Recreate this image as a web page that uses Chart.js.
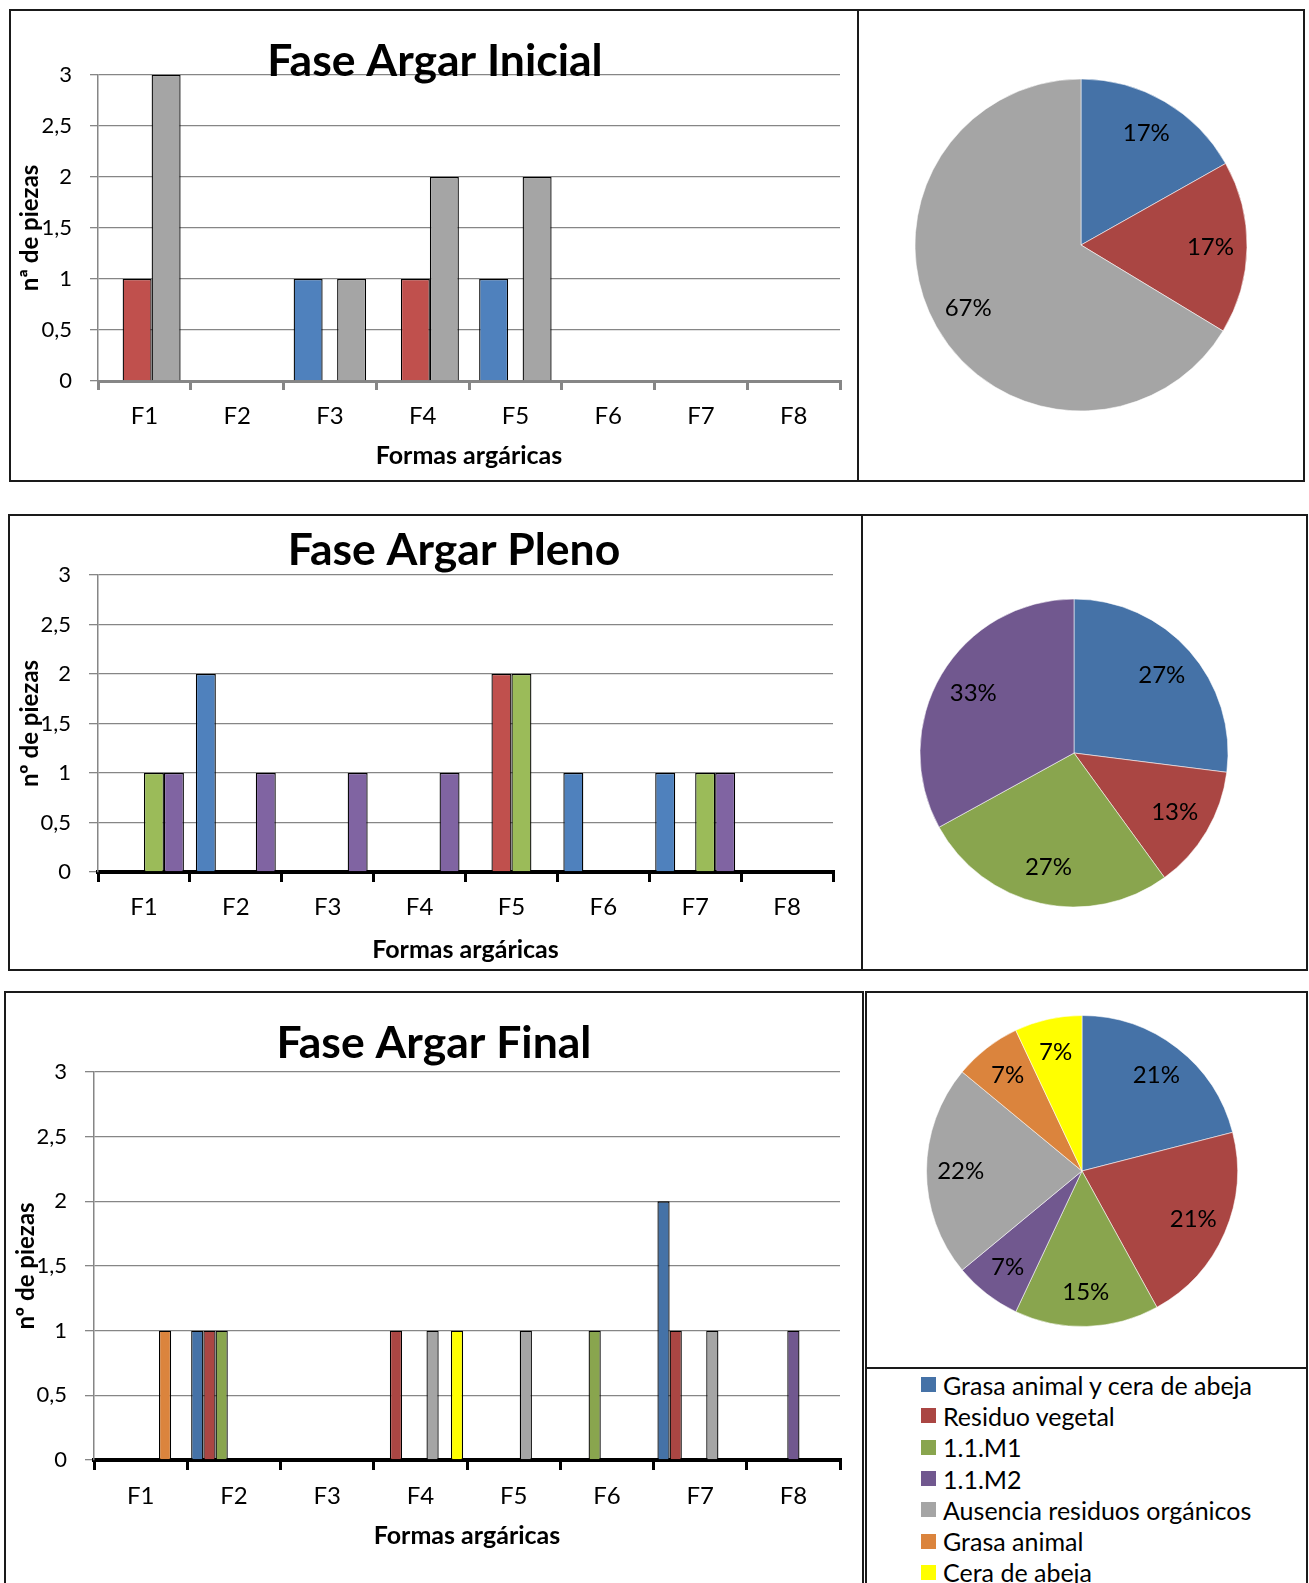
<!DOCTYPE html>
<html lang="es">
<head>
<meta charset="utf-8">
<title>Fases argáricas</title>
<script src="https://cdn.jsdelivr.net/npm/chart.js@4.4.1/dist/chart.umd.min.js"></script>
<style>
  html, body { margin: 0; padding: 0; background: #fff; }
  body { position: relative; width: 1309px; height: 1583px; overflow: hidden; font-family: Lato, sans-serif; }
  .box { position: absolute; box-sizing: border-box; border: 2px solid #1a1a1a; pointer-events: none; }
  .rule { position: absolute; background: #1a1a1a; }
  canvas { position: absolute; }
  #legend { position: absolute; left: 921px; top: 1369px; margin: 0; padding: 0; list-style: none; font: 25px Lato, sans-serif; color: #000; }
  #legend li { display: flex; align-items: center; height: 31.3px; white-space: nowrap; }
  #legend span { display: inline-block; width: 15px; height: 15px; margin-right: 7px; }
</style>
</head>
<body>
<canvas id="bar-inicial" width="852" height="472" style="left:9px;top:9px"></canvas>
<canvas id="pie-inicial" width="360" height="360" style="left:901px;top:65px"></canvas>
<canvas id="bar-pleno" width="892" height="456" style="left:8px;top:514px"></canvas>
<canvas id="pie-pleno" width="340" height="340" style="left:904px;top:583px"></canvas>
<canvas id="bar-final" width="860" height="600" style="left:4px;top:991px"></canvas>
<canvas id="pie-final" width="340" height="340" style="left:912px;top:1001px"></canvas>
<ul id="legend"></ul>

<div class="box" style="left:9px;top:9px;width:850px;height:473px"></div>
<div class="box" style="left:857px;top:9px;width:448px;height:473px"></div>
<div class="box" style="left:8px;top:514px;width:855px;height:457px"></div>
<div class="box" style="left:861px;top:514px;width:447px;height:457px"></div>
<div class="box" style="left:4px;top:991px;width:860px;height:620px"></div>
<div class="box" style="left:865px;top:991px;width:443px;height:620px"></div>
<div class="rule" style="left:865px;top:1367px;width:443px;height:2px"></div>

<script>
// ---- datos ----
const CATEGORIES = ["F1", "F2", "F3", "F4", "F5", "F6", "F7", "F8"];
const Y_TICK_LABELS = ["0", "0,5", "1", "1,5", "2", "2,5", "3"];

// Fase Argar Inicial (nº de piezas por forma)
const INI_GRASA_CERA = [0, 0, 1, 0, 1, 0, 0, 0];
const INI_RESIDUO_VEGETAL = [1, 0, 0, 1, 0, 0, 0, 0];
const INI_M1 = [0, 0, 0, 0, 0, 0, 0, 0];
const INI_AUSENCIA = [3, 0, 1, 2, 2, 0, 0, 0];

// Fase Argar Pleno
const PLE_GRASA_CERA = [0, 2, 0, 0, 0, 1, 1, 0];
const PLE_RESIDUO_VEGETAL = [0, 0, 0, 0, 2, 0, 0, 0];
const PLE_M1 = [1, 0, 0, 0, 2, 0, 1, 0];
const PLE_M2 = [1, 1, 1, 1, 0, 0, 1, 0];

// Fase Argar Final
const FIN_GRASA_CERA = [0, 1, 0, 0, 0, 0, 2, 0];
const FIN_RESIDUO_VEGETAL = [0, 1, 0, 1, 0, 0, 1, 0];
const FIN_M1 = [0, 1, 0, 0, 0, 1, 0, 0];
const FIN_M2 = [0, 0, 0, 0, 0, 0, 0, 1];
const FIN_AUSENCIA = [0, 0, 0, 1, 1, 0, 1, 0];
const FIN_GRASA = [1, 0, 0, 0, 0, 0, 0, 0];
const FIN_CERA = [0, 0, 0, 1, 0, 0, 0, 0];

// tartas (% mostrado)
const PIE_INI_LABELS = ["Grasa animal y cera de abeja", "Residuo vegetal", "Ausencia residuos orgánicos"];
const PIE_INI_VALUES = [17, 17, 67];
const PIE_PLE_LABELS = ["Grasa animal y cera de abeja", "Residuo vegetal", "1.1.M1", "1.1.M2"];
const PIE_PLE_VALUES = [27, 13, 27, 33];
const PIE_FIN_LABELS = ["Grasa animal y cera de abeja", "Residuo vegetal", "1.1.M1", "1.1.M2",
  "Ausencia residuos orgánicos", "Grasa animal", "Cera de abeja"];
const PIE_FIN_VALUES = [21, 21, 15, 7, 22, 7, 7];

// ---- estilos ----
const XL = { blue: "#4F81BD", red: "#C0504D", green: "#9BBB59", purple: "#8064A2", gray: "#A5A5A5" };
const PIE = ["#4572A7", "#AA4643", "#89A54E", "#71588F", "#A5A5A5", "#DB843D", "#FFFF00"];
const GRID = "#868686";

Chart.defaults.font.family = "Lato, sans-serif";
Chart.defaults.color = "#000";

function barChart(id, o) {
  return new Chart(document.getElementById(id), {
    type: "bar",
    data: {
      labels: CATEGORIES,
      datasets: o.series.map((s) => ({
        label: s.label, data: s.data, backgroundColor: s.color,
        borderColor: "#000", borderWidth: (c) => (c.raw ? 1.3 : 0),
        categoryPercentage: o.catPct, barPercentage: o.barPct,
      })),
    },
    options: {
      responsive: false, animation: false,
      plugins: {
        legend: { display: false }, tooltip: { enabled: false },
        title: { display: true, text: o.title, font: { size: 44.5, weight: "bold", lineHeight: 1 }, padding: o.titlePad },
      },
      scales: {
        x: {
          offset: true,
          grid: { offset: true, drawOnChartArea: false, color: o.axisColor, lineWidth: o.tickWidth, tickLength: o.xTickLen },
          border: { color: o.axisColor, width: o.axisWidth },
          ticks: { font: { size: 24, lineHeight: 1.2 }, padding: o.xTickPad, maxRotation: 0, autoSkip: false },
          title: { display: true, text: "Formas argáricas", font: { size: 25, weight: "bold", lineHeight: 1.2 }, padding: { top: 0, bottom: o.xTitlePad } },
          afterFit: (s) => { s.height = o.xHeight; },
        },
        y: {
          min: 0, max: 3,
          grid: { color: GRID, lineWidth: 1.3, tickLength: o.yTickLen },
          border: { color: GRID, width: 1.5 },
          ticks: { stepSize: 0.5, padding: 18, font: { size: 22 }, callback: (v, i) => Y_TICK_LABELS[i] },
          title: { display: true, text: o.yTitle, font: { size: 24, weight: "bold", lineHeight: 1.2 }, padding: { top: o.yTitlePad, bottom: 0 } },
          afterFit: (s) => { s.width = o.yWidth; },
        },
        spacer: {
          type: "linear", position: "right",
          grid: { display: false }, border: { display: false }, ticks: { display: false },
          afterFit: (s) => { s.width = o.rightSpace; },
        },
      },
    },
  });
}

// etiquetas de porcentaje dentro de cada sector
const pieLabels = {
  id: "pieLabels",
  afterDatasetsDraw(chart, args, opts) {
    const { ctx } = chart;
    const values = chart.data.datasets[0].data;
    ctx.save();
    ctx.font = "24px Lato, sans-serif";
    ctx.fillStyle = "#000";
    ctx.textAlign = "center";
    ctx.textBaseline = "middle";
    chart.getDatasetMeta(0).data.forEach((arc, i) => {
      const { x, y, startAngle, endAngle, outerRadius } = arc.getProps(["x", "y", "startAngle", "endAngle", "outerRadius"], true);
      const mid = (startAngle + endAngle) / 2, r = outerRadius * opts.ratio;
      ctx.fillText(values[i] + "%", x + Math.cos(mid) * r, y + Math.sin(mid) * r);
    });
    ctx.restore();
  },
};

function pieChart(id, labels, values, colors, radius, ratio) {
  return new Chart(document.getElementById(id), {
    type: "pie",
    data: { labels, datasets: [{ data: values, backgroundColor: colors, borderColor: "rgba(255,255,255,0.55)", borderWidth: 1 }] },
    options: {
      responsive: false, animation: false, radius,
      plugins: { legend: { display: false }, tooltip: { enabled: false }, pieLabels: { ratio } },
    },
    plugins: [pieLabels],
  });
}

function draw() {
  barChart("bar-inicial", {
    title: "Fase Argar Inicial", yTitle: "nª de piezas",
    series: [
      { label: "Grasa animal y cera de abeja", data: INI_GRASA_CERA, color: XL.blue },
      { label: "Residuo vegetal", data: INI_RESIDUO_VEGETAL, color: XL.red },
      { label: "1.1.M1", data: INI_M1, color: XL.green },
      { label: "Ausencia residuos orgánicos", data: INI_AUSENCIA, color: XL.gray },
    ],
    catPct: 0.625, barPct: 2,
    titlePad: { top: 30.75, bottom: -9.25 },
    yWidth: 89, yTitlePad: 6.6, yTickLen: 8, rightSpace: 21,
    xHeight: 100, xTickLen: 9, xTickPad: 11.6, xTitlePad: 10,
    axisColor: GRID, axisWidth: 3, tickWidth: 3,
  });
  barChart("bar-pleno", {
    title: "Fase Argar Pleno", yTitle: "nº de piezas",
    series: [
      { label: "Grasa animal y cera de abeja", data: PLE_GRASA_CERA, color: XL.blue },
      { label: "Residuo vegetal", data: PLE_RESIDUO_VEGETAL, color: XL.red },
      { label: "1.1.M1", data: PLE_M1, color: XL.green },
      { label: "1.1.M2", data: PLE_M2, color: XL.purple },
    ],
    catPct: 0.87, barPct: 1,
    titlePad: { top: 14.75, bottom: 1.75 },
    yWidth: 90, yTitlePad: 7.6, yTickLen: 9, rightSpace: 67,
    xHeight: 98, xTickLen: 10, xTickPad: 10.6, xTitlePad: 5,
    axisColor: "#000", axisWidth: 4, tickWidth: 3,
  });
  barChart("bar-final", {
    title: "Fase Argar Final", yTitle: "nº de piezas",
    series: [
      { label: "Grasa animal y cera de abeja", data: FIN_GRASA_CERA, color: PIE[0] },
      { label: "Residuo vegetal", data: FIN_RESIDUO_VEGETAL, color: PIE[1] },
      { label: "1.1.M1", data: FIN_M1, color: PIE[2] },
      { label: "1.1.M2", data: FIN_M2, color: PIE[3] },
      { label: "Ausencia residuos orgánicos", data: FIN_AUSENCIA, color: PIE[4] },
      { label: "Grasa animal", data: FIN_GRASA, color: PIE[5] },
      { label: "Cera de abeja", data: FIN_CERA, color: PIE[6] },
    ],
    catPct: 0.916, barPct: 1,
    titlePad: { top: 30.25, bottom: 6.25 },
    yWidth: 90, yTitlePad: 7.6, yTickLen: 9, rightSpace: 24,
    xHeight: 131, xTickLen: 10, xTickPad: 11.6, xTitlePad: 40,
    axisColor: "#000", axisWidth: 4, tickWidth: 3,
  });

  pieChart("pie-inicial", PIE_INI_LABELS, PIE_INI_VALUES, [PIE[0], PIE[1], PIE[4]], 166, 0.78);
  pieChart("pie-pleno", PIE_PLE_LABELS, PIE_PLE_VALUES, PIE.slice(0, 4), 154, 0.76);
  const pieFinal = pieChart("pie-final", PIE_FIN_LABELS, PIE_FIN_VALUES, PIE, 155.5, 0.78);

  // leyenda en HTML a partir de los elementos que genera Chart.js
  const items = pieFinal.options.plugins.legend.labels.generateLabels(pieFinal);
  document.getElementById("legend").innerHTML = items
    .map((it) => `<li><span style="background:${it.fillStyle}"></span>${it.text}</li>`).join("");
}

document.fonts.ready.then(draw);
</script>
</body>
</html>
